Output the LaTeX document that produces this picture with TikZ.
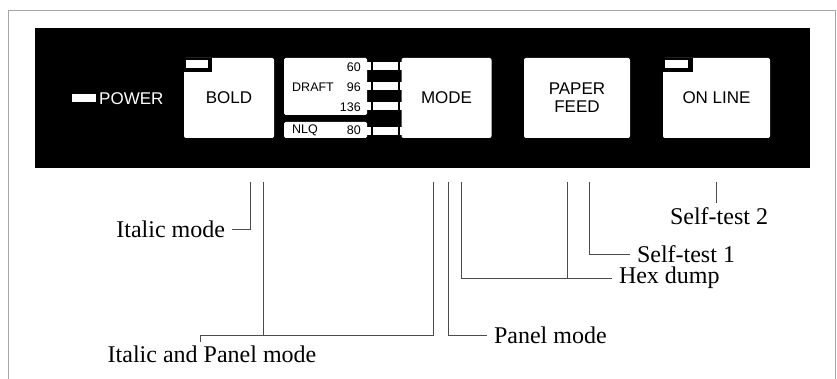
\documentclass[tikz,border=0pt]{standalone}
\usepackage{fontspec}
\setmainfont{Liberation Serif}
\newfontfamily\panelfont{Liberation Sans}
\usepackage{tikz}
\usetikzlibrary{positioning}
\tikzset{
key/.style = {rectangle, fill=white, rounded corners=2pt, minimum width=#1,
              minimum height=80pt, inner sep=0pt, outer sep=0pt,
              font=\panelfont\fontsize{17}{18}\selectfont, align=center},
key/.default = 90pt % width of the button
}
\tikzset{
lamp/.style = {rectangle, fill=white, minimum width=#1, minimum height=8pt,
               inner sep=0pt, outer sep=0pt},
lamp/.default = 24pt
}
\tikzset{
small/.style = {inner sep=0pt, font=\panelfont\fontsize{12.5}{13}\selectfont},
lbl/.style = {inner sep=0pt, outer xsep=7pt, font=\fontsize{24}{26}\selectfont},
lead/.style = {draw=black!70, line width=0.7pt}
}

\begin{document}
\begin{tikzpicture}[x=1pt, y=-1pt]
\useasboundingbox (0,0) rectangle (837,379);
\draw[black!35, line width=0.6pt] (8,379) |- (835,10) -- (835,379);

% the panel
\fill[black] (35,28) rectangle (810,168);
\node[lamp] (powerlamp) at (84,98) {};
\node[anchor=west, inner sep=0pt, text=white, font=\panelfont\fontsize{17}{18}\selectfont] (power) at (99,99) {POWER};

\node[key] (bold) at (229,98) {BOLD};
\fill[black] (bold.north west) rectangle ++(28,14);
\node[lamp, minimum width=22pt] (boldlamp) at (197,64) {};

\node[rectangle, fill=white, rounded corners=1.5pt, minimum width=83pt, minimum height=57pt, inner sep=0pt] (draft) at (325.5,86.5) {};
\node[rectangle, fill=white, rounded corners=1.5pt, minimum width=83pt, minimum height=16pt, inner sep=0pt] (nlq) at (325.5,130) {};
\node[small, anchor=east] (d60) at (361,67) {60};
\node[small, anchor=east] (d96) at (361,87) {96};
\node[small, anchor=east] (d136) at (361,107) {136};
\node[small, anchor=west] (dtxt) at (292,87) {DRAFT};
\node[small, anchor=west] (ntxt) at (292,130) {NLQ};
\node[small, anchor=east] (n80) at (361,130) {80};

\node[key] (mode) at (446.5,98) {MODE};
\foreach \y/\n in {66/a, 86/b, 106/c, 131/d} {
  \node[lamp, minimum width=38pt] (led\n) at (386,\y) {};
  \draw[black, line width=1.2pt] (372,\y-4) -- (372,\y+4) (399,\y-4) -- (399,\y+4);
}

\node[key, minimum width=106pt] (feed) at (577,98) {PAPER\\[0pt]FEED};
\node[key, minimum width=107pt] (online) at (716.5,98) {ON LINE};
\fill[black] (online.north west) rectangle ++(30,14);
\node[lamp, minimum width=23pt] (onlamp) at (676.5,64) {};

% leader ends below the panel
\foreach \x/\n in {250/a, 263/b, 433/c, 448/d, 461/e, 567/f, 589/g, 716/h}
  \coordinate (t\n) at (\x,182);
\coordinate (jn) at (200,335);

% labels
\node[lbl, anchor=east] (italic) at (232,229) {Italic mode};
\node[lbl, anchor=north] (itpanel) at (212,346) {Italic and Panel mode};
\node[lbl, anchor=west] (panel) at (487,335) {Panel mode};
\node[lbl, anchor=west] (hex) at (612,278) {Hex dump};
\node[lbl, anchor=west] (self1) at (630,254) {Self-test 1};
\node[lbl, anchor=north] (self2) at (719,207) {Self-test 2};

\draw[lead] (ta) |- (italic.east);
\draw[lead] (tb) -- (tb |- jn);
\draw[lead] (tc) |- (jn) -- ++(0,7);
\draw[lead] (td) |- (panel.west);
\draw[lead] (te) |- (hex.west);
\draw[lead] (tf) -- (tf |- hex.west);
\draw[lead] (tg) |- (self1.west);
\draw[lead] (th) -- (th |- 0,203);
\end{tikzpicture}
\end{document}
